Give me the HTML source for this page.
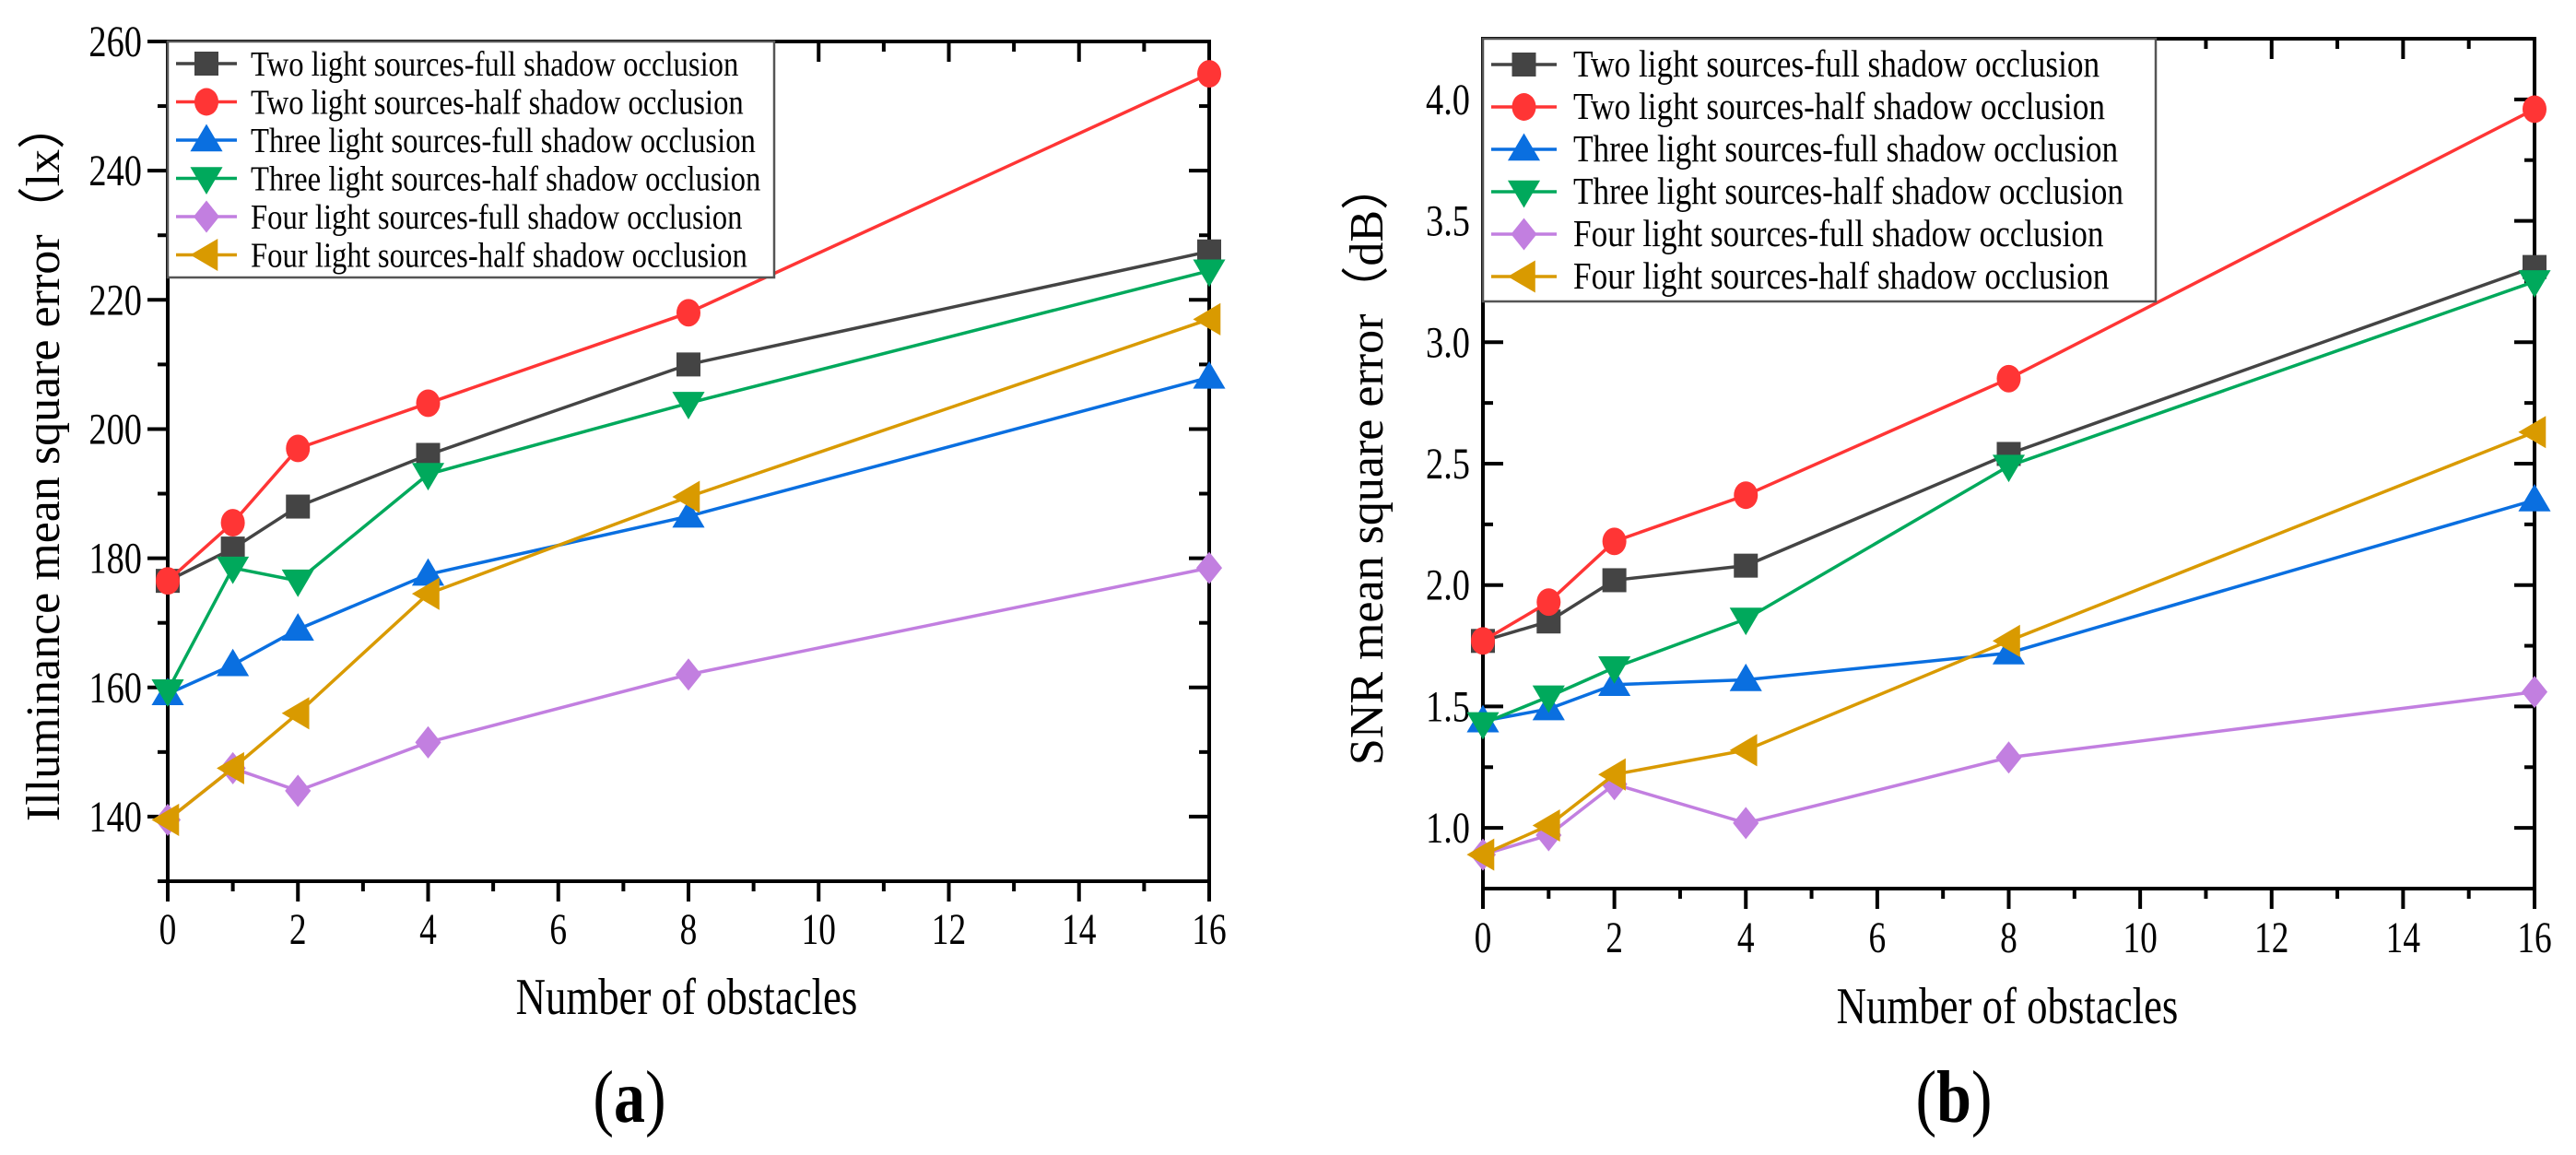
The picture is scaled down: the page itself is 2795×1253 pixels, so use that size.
<!DOCTYPE html>
<html><head><meta charset="utf-8"><style>
html,body{margin:0;padding:0;background:#fff;}
svg{display:block;font-family:"Liberation Serif",serif;}
</style></head><body>
<svg id="fig" width="2795" height="1253" viewBox="0 0 2795 1253" xmlns="http://www.w3.org/2000/svg"></svg>
<script>
const xVals=[0,1,2,4,8,16];
const seriesNames=["Two light sources-full shadow occlusion","Two light sources-half shadow occlusion","Three light sources-full shadow occlusion","Three light sources-half shadow occlusion","Four light sources-full shadow occlusion","Four light sources-half shadow occlusion"];
const aTwoFull=[176.5,181.5,188,196,210,227.5];
const aTwoHalf=[176.5,185.5,197,204,218,255];
const aThreeFull=[159,163.5,169,177.5,186.5,208];
const aThreeHalf=[159.5,178.5,176.5,193,204,224.5];
const aFourFull=[139.5,147.5,144,151.5,162,178.5];
const aFourHalf=[139.5,147.5,156,174.5,189.5,217];
const bTwoFull=[1.77,1.85,2.02,2.08,2.54,3.31];
const bTwoHalf=[1.77,1.93,2.18,2.37,2.85,3.96];
const bThreeFull=[1.44,1.49,1.59,1.61,1.72,2.35];
const bThreeHalf=[1.43,1.54,1.66,1.86,2.49,3.25];
const bFourFull=[0.89,0.97,1.18,1.02,1.29,1.56];
const bFourHalf=[0.89,1.01,1.22,1.32,1.77,2.63];
const xTicks=[0,2,4,6,8,10,12,14,16];
const aYTicks=[140,160,180,200,220,240,260];
const bYTicks=["1.0","1.5","2.0","2.5","3.0","3.5","4.0"];

const colors=["#444444","#ff3535","#0a6fe0","#00a95c","#c27fe0","#d99a00"];
const markers=["square","circle","up","down","diamond","left"];
const NS="http://www.w3.org/2000/svg";
const svg=document.getElementById('fig');
function el(tag,attrs,parent){const e=document.createElementNS(NS,tag);for(const k in attrs)e.setAttribute(k,attrs[k]);(parent||svg).appendChild(e);return e;}
function txt(s,x,y,size,anchor,parent,sx,weight,rot){
  const t=el('text',{x:0,y:0,'font-size':size,'text-anchor':anchor||'middle',transform:`translate(${x},${y})${rot?' rotate('+rot+')':''} scale(${sx||0.8},1)`},parent);
  if(weight)t.setAttribute('font-weight',weight);
  t.textContent=s;return t;}
function marker(type,cx,cy,r,col,parent){
  let m;
  if(type==="square")m=el('rect',{x:cx-r,y:cy-r,width:2*r,height:2*r,fill:col},parent);
  else if(type==="circle")m=el('ellipse',{cx:cx,cy:cy,rx:r,ry:r*1.15,fill:col},parent);
  else{let p;const R=r*1.35;
    if(type==="up")p=[[cx,cy-R],[cx-R,cy+R*0.7],[cx+R,cy+R*0.7]];
    if(type==="down")p=[[cx,cy+R],[cx-R,cy-R*0.7],[cx+R,cy-R*0.7]];
    if(type==="diamond")p=[[cx,cy-R],[cx+R*0.8,cy],[cx,cy+R],[cx-R*0.8,cy]];
    if(type==="left")p=[[cx-R,cy],[cx+R*0.7,cy-R],[cx+R*0.7,cy+R]];
    m=el('polygon',{points:p.map(q=>q.join(',')).join(' '),fill:col},parent);}
  return m;}

function chart(cfg){
  const g=el('g',{});
  
  
  const X=v=>cfg.x0+(v-0)/16*(cfg.x1-cfg.x0);
  const Y=v=>cfg.yTop+(cfg.vMax-v)/(cfg.vMax-cfg.vMin)*(cfg.yBot-cfg.yTop);
  const fr=el('rect',{x:cfg.x0,y:cfg.yTop,width:cfg.x1-cfg.x0,height:cfg.yBot-cfg.yTop,fill:'none',stroke:'#000','stroke-width':4},g);
  
  for(let v=0;v<=16;v++){
    const major=v%2===0;const len=major?22:11;
    el('line',{x1:X(v),x2:X(v),y1:cfg.yBot,y2:cfg.yBot+len,stroke:'#000','stroke-width':4},g);
    el('line',{x1:X(v),x2:X(v),y1:cfg.yTop,y2:cfg.yTop+len,stroke:'#000','stroke-width':4},g);
  }
  xTicks.forEach(v=>{const t=txt(String(v),X(v),cfg.xLabY,48,'middle',g,0.78);
    });
  for(let v=cfg.vMin;v<=cfg.vMax+1e-9;v+=cfg.minor){
    const major=Math.abs(((v-cfg.majorBase)/cfg.major)-Math.round((v-cfg.majorBase)/cfg.major))<1e-6;
    const len=major?22:11;
    el('line',{x1:cfg.x0-(cfg.outY?len:0),x2:cfg.x0+(cfg.outY?0:len),y1:Y(v),y2:Y(v),stroke:'#000','stroke-width':4},g);
    el('line',{x1:cfg.x1-len,x2:cfg.x1,y1:Y(v),y2:Y(v),stroke:'#000','stroke-width':4},g);
  }
  cfg.yTicks.forEach(s=>{const t=txt(s,cfg.x0-cfg.yLabOff,Y(parseFloat(s))+16,48,'end',g,0.8);
    });
  cfg.series.forEach((arr,i)=>{
    const sg=el('g',{},g);
    
    
    el('polyline',{points:arr.map((v,j)=>X(xVals[j])+','+Y(v)).join(' '),fill:'none',stroke:colors[i],'stroke-width':3.5},sg);
    arr.forEach((v,j)=>{const m=marker(markers[i],X(xVals[j]),Y(v),13,colors[i],sg);
      });
  });
  const lg=el('g',{},g);
  
  
  el('rect',{x:cfg.x0,y:cfg.yTop,width:cfg.legW,height:cfg.legH,fill:'#fff',stroke:'#555','stroke-width':2.5},lg);
  seriesNames.forEach((n,i)=>{
    const ry=cfg.legY0+i*cfg.legDy;
    const e=el('g',{},lg);
    
    
    el('line',{x1:cfg.x0+9,x2:cfg.x0+9+cfg.legLine,y1:ry,y2:ry,stroke:colors[i],'stroke-width':3.5},e);
    marker(markers[i],cfg.x0+9+cfg.legLine/2,ry,13,colors[i],e);
    txt(n,cfg.x0+cfg.legText,ry+13,cfg.legFont,'start',e,cfg.legSx);
  });
  const xt=txt("Number of obstacles",cfg.xTitleX,cfg.xTitleY,56,'middle',g,0.8);
  
  const yt=txt(cfg.yTitle,cfg.yTitleX,(cfg.yTop+cfg.yBot)/2,52,'middle',g,1,null,-90);
  
  const pl=txt(cfg.panel,cfg.panelX,cfg.panelY,80,'middle',g,0.85);
  
  pl.innerHTML='(<tspan font-weight="bold">'+cfg.panel.slice(1,-1)+'</tspan>)';
}
chart({name:'chart-a-illuminance',x0:182,x1:1312,yTop:45,yBot:956,vMin:130,vMax:260,minor:10,major:20,majorBase:140,outY:true,
  yTicks:aYTicks.map(String),yLabOff:28,xLabY:1024,series:[aTwoFull,aTwoHalf,aThreeFull,aThreeHalf,aFourFull,aFourHalf],
  legW:658,legH:256,legY0:69,legDy:41.5,legLine:66,legText:90,legFont:38,legSx:0.86,
  xTitleX:745,xTitleY:1100,yTitle:"Illuminance mean square error（lx）",yTitleX:64,panel:"(a)",panelX:683,panelY:1217});
chart({name:'chart-b-snr',x0:1609,x1:2750,yTop:42,yBot:964,vMin:0.75,vMax:4.25,minor:0.25,major:0.5,majorBase:1.0,outY:false,
  yTicks:bYTicks,yLabOff:14,xLabY:1033,series:[bTwoFull,bTwoHalf,bThreeFull,bThreeHalf,bFourFull,bFourHalf],
  legW:730,legH:285,legY0:70,legDy:46,legLine:71,legText:98,legFont:41,legSx:0.86,
  xTitleX:2178,xTitleY:1110,yTitle:"SNR mean square error（dB）",yTitleX:1500,panel:"(b)",panelX:2120,panelY:1217});
</script>
</body></html>
